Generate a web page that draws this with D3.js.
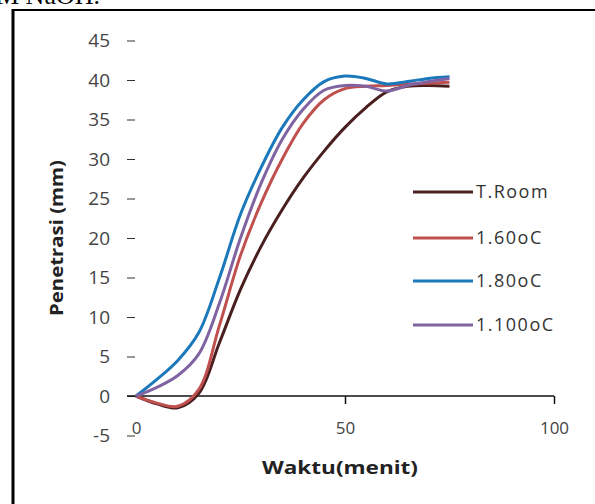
<!DOCTYPE html>
<html>
<head>
<meta charset="utf-8">
<script src="https://cdn.jsdelivr.net/npm/d3@7"></script>
<style>
  body { margin: 0; background: #fff; }
</style>
</head>
<body>
<svg width="595" height="504"></svg>
<script>
// Data
const waktu = [0, 5, 10, 15, 20, 25, 30, 35, 40, 45, 50, 55, 60, 65, 70, 75];
const tRoom  = [0, -1.0, -1.5, 0.3, 6.8, 13.5, 19.0, 23.6, 27.6, 31.0, 34.0, 36.5, 38.5, 39.2, 39.3, 39.2];
const t60    = [0, -0.9, -1.3, 0.8, 9.0, 17.8, 24.5, 30.0, 34.5, 37.5, 38.9, 39.2, 39.3, 39.5, 39.6, 39.7];
const t80    = [0, 2.1, 4.5, 8.0, 15.0, 23.0, 29.0, 34.0, 37.5, 39.8, 40.5, 40.2, 39.5, 39.8, 40.2, 40.4];
const t100   = [0, 1.1, 2.6, 5.3, 11.8, 20.0, 27.0, 32.5, 36.3, 38.7, 39.3, 39.2, 38.6, 39.3, 39.8, 40.2];
const seriesNames = ["T.Room", "1.60oC", "1.80oC", "1.100oC"];
const seriesColors = ["#4a1f20", "#c0504d", "#1b78bb", "#8064a2"];
const yTicks = [45, 40, 35, 30, 25, 20, 15, 10, 5, 0, -5];
const xTicks = [0, 50, 100];

const svg = d3.select("svg");
const width = +svg.attr("width");
const height = +svg.attr("height");

// Frame round the figure
svg.append("line")
   .attr("x1", 13).attr("x2", width)
   .attr("y1", 10).attr("y2", 10)
   .attr("stroke", "#000").attr("stroke-width", 2);
svg.append("line")
   .attr("x1", 13).attr("x2", 13)
   .attr("y1", 9).attr("y2", height)
   .attr("stroke", "#000").attr("stroke-width", 3);

// Caption text cut off at the top (as in the scan)
svg.append("text")
   .attr("x", -4).attr("y", 4)
   .style("font-family", "Liberation Serif")
   .style("font-size", "26px")
   .text("M NaOH.");

// Scales
const xScale = d3.scaleLinear().domain([0, 100]).range([136, 554]);
const yScale = d3.scaleLinear().domain([0, 40]).range([396, 80]);

// Y axis (ticks and labels only)
const yAxis = svg.append("g")
   .attr("transform", "translate(135,0)")
   .call(d3.axisLeft(yScale).tickValues(yTicks).tickFormat(d => String(d))
           .tickSize(8).tickPadding(17));
yAxis.select(".domain").remove();
yAxis.selectAll("line").attr("stroke", "#333");
yAxis.selectAll("text")
     .style("font-family", "Open Sans")
     .style("font-size", "19px")
     .style("fill", "#444");

// X axis
const xAxis = svg.append("g")
   .attr("transform", `translate(0,${yScale(0)})`)
   .call(d3.axisBottom(xScale).tickValues(xTicks).tickFormat(d => String(d))
           .tickSize(8).tickPadding(18));
xAxis.select(".domain").remove();
xAxis.selectAll("line").attr("stroke", "#111").attr("stroke-width", 1.5)
     .filter(d => d === 0).remove();
xAxis.selectAll("text")
     .style("font-family", "Open Sans")
     .style("font-size", "17px")
     .style("fill", "#444");
svg.append("line")
   .attr("x1", 127).attr("x2", xScale(100))
   .attr("y1", yScale(0)).attr("y2", yScale(0))
   .attr("stroke", "#111").attr("stroke-width", 1.5);

// Axis titles
svg.append("text")
   .attr("transform", "translate(63,238) rotate(-90)")
   .attr("text-anchor", "middle")
   .attr("textLength", 156)
   .attr("lengthAdjust", "spacingAndGlyphs")
   .style("font-family", "Open Sans")
   .style("font-weight", "bold")
   .style("font-size", "17px")
   .style("fill", "#222")
   .text("Penetrasi (mm)");
svg.append("text")
   .attr("x", 340).attr("y", 474)
   .attr("text-anchor", "middle")
   .attr("textLength", 156)
   .attr("lengthAdjust", "spacingAndGlyphs")
   .style("font-family", "Open Sans")
   .style("font-weight", "bold")
   .style("font-size", "18px")
   .style("fill", "#222")
   .text("Waktu(menit)");

// Lines
const allSeries = [tRoom, t60, t80, t100];
const line = d3.line()
   .x((d, i) => xScale(waktu[i]))
   .y(d => yScale(d))
   .curve(d3.curveCatmullRom.alpha(0.5));

svg.append("g")
   .selectAll("path")
   .data(allSeries)
   .join("path")
   .attr("fill", "none")
   .attr("stroke", (d, i) => seriesColors[i])
   .attr("stroke-width", 3)
   .attr("d", line);

// Legend
const legendY = [192, 238, 281, 325];
const legend = svg.append("g");
const entries = legend.selectAll("g")
   .data(seriesNames)
   .join("g")
   .attr("transform", (d, i) => `translate(413,${legendY[i]})`);
entries.append("line")
   .attr("x1", 0).attr("x2", 60)
   .attr("stroke", (d, i) => seriesColors[i])
   .attr("stroke-width", 3);
entries.append("text")
   .attr("x", 63).attr("dy", "0.35em")
   .style("font-family", "Open Sans")
   .style("font-size", "18px")
   .style("letter-spacing", "1.5px")
   .style("fill", "#333")
   .text(d => d);
</script>
</body>
</html>
